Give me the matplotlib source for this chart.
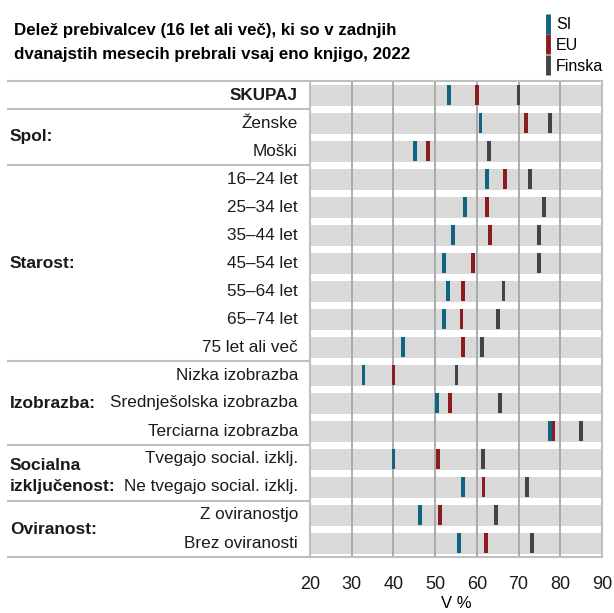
import matplotlib.pyplot as plt
from matplotlib.lines import Line2D
from matplotlib.transforms import blended_transform_factory

categories = [
    "SKUPAJ", "Ženske", "Moški",
    "16–24 let", "25–34 let", "35–44 let", "45–54 let", "55–64 let", "65–74 let", "75 let ali več",
    "Nizka izobrazba", "Srednješolska izobrazba", "Terciarna izobrazba",
    "Tvegajo social. izklj.", "Ne tvegajo social. izklj.",
    "Z oviranostjo", "Brez oviranosti",
]
si = [53.3, 60.9, 45.1, 62.5, 57.2, 54.2, 52.2, 53.0, 52.2, 42.3,
      32.8, 50.5, 77.6, 40.0, 56.7, 46.3, 55.8]
eu = [60.0, 71.7, 48.3, 66.7, 62.5, 63.2, 59.0, 56.6, 56.3, 56.6,
      40.0, 53.5, 78.4, 50.7, 61.6, 51.2, 62.2]
finska = [70.0, 77.5, 62.9, 72.7, 76.1, 74.9, 74.9, 66.4, 65.1, 61.3,
          55.1, 65.5, 85.0, 61.5, 72.0, 64.5, 73.2]

# group label and the row it is centred on
groups = [("Spol:", 1.5), ("Starost:", 6), ("Izobrazba:", 11),
          ("Socialna\nizključenost:", 13.6), ("Oviranost:", 15.5)]
boundaries = [-0.5, 0.5, 2.5, 9.5, 12.5, 14.5, 16.5]
xticks = [20, 30, 40, 50, 60, 70, 80, 90]

series = [("SI", si, "#0f6480"), ("EU", eu, "#8c1c20"), ("Finska", finska, "#3f4449")]

fig = plt.figure(figsize=(6.14, 6.13), dpi=100)
ax = fig.add_axes([310 / 614, 56 / 613, 292 / 614, 476 / 613])

rows = list(range(len(categories)))
ax.barh(rows, xticks[-1] - xticks[0], left=xticks[0], height=0.75,
        color="#d9d9d9", zorder=1)
for x in xticks[1:-1]:
    ax.axvline(x, color="#a6a6a6", lw=1.3, zorder=2)

for name, vals, col in series:
    ax.barh(rows, 0.9, left=[v - 0.45 for v in vals], height=0.72,
            color=col, zorder=3)

ax.set_xlim(xticks[0], xticks[-1])
ax.set_ylim(16.5, -0.5)
ax.set_yticks([])
ax.set_xticks(xticks)
ax.tick_params(axis="x", length=0, pad=14, labelsize=13, labelcolor="#1a1a1a")
for lab in ax.get_xticklabels():
    lab.set_family("Liberation Sans")
ax.set_xlabel("V %", fontsize=12, family="Liberation Sans", labelpad=2)
for sp in ax.spines.values():
    sp.set_color("#bfbfbf")
    sp.set_linewidth(1.5)

# left table
tr = blended_transform_factory(fig.transFigure, ax.transData)
for b in boundaries:
    ax.plot([8 / 614, 310 / 614], [b, b], color="#bfbfbf", lw=1.5,
            transform=tr, clip_on=False)
for i, cat in enumerate(categories):
    ax.text(298 / 614, i, cat, transform=tr, ha="right", va="center",
            fontsize=12.3, family="Liberation Sans", color="#1a1a1a",
            fontweight="bold" if cat == "SKUPAJ" else "normal")
for name, y in groups:
    ax.text(10 / 614, y, name, transform=tr, ha="left", va="center",
            fontsize=12.5, family="Liberation Sans", fontweight="bold",
            color="#1a1a1a", linespacing=1.55)

fig.text(14 / 614, 1 - 35 / 613, "Delež prebivalcev (16 let ali več), ki so v zadnjih",
         fontsize=12.2, fontweight="bold", family="Liberation Sans", va="baseline")
fig.text(14 / 614, 1 - 59 / 613, "dvanajstih mesecih prebrali vsaj eno knjigo, 2022",
         fontsize=12.2, fontweight="bold", family="Liberation Sans", va="baseline")

handles = [Line2D([], [], ls="none", marker="|", markersize=15, markeredgewidth=3.5,
                  color=col, label=name) for name, vals, col in series]
fig.legend(handles=handles, loc="upper left", bbox_to_anchor=(537 / 614, 1 - 11 / 613),
           frameon=False, prop={"family": "Liberation Sans", "size": 11.5},
           handlelength=0.6, handletextpad=0.2, labelspacing=0.35, borderaxespad=0)

fig.savefig("out.png", dpi=100)
